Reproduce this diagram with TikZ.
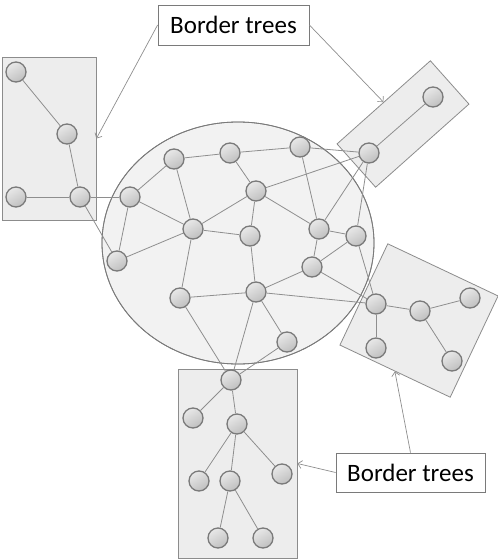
\documentclass[tikz,border=0pt]{standalone}
\usepackage{fontspec}
\setmainfont{Carlito}
\usepackage{xcolor}
\definecolor{boxfill}{HTML}{EDEDED}
\definecolor{boxline}{HTML}{8C8C8C}
\definecolor{corefill}{HTML}{F2F2F2}
\definecolor{coreline}{HTML}{7A7A7A}
\definecolor{linkgray}{HTML}{8E8E8E}
\usepackage{tikz}
\usetikzlibrary{calc,positioning,shapes,arrows.meta}
\tikzset{
  vertex/.style={circle,draw=coreline,line width=1.3pt,minimum size=20pt,inner sep=0pt,
    top color=gray!18,bottom color=gray!50,shading angle=30},
  treebox/.style={rectangle,draw=boxline,fill=boxfill,line width=0.8pt,inner sep=0pt},
  link/.style={draw=linkgray,line width=0.8pt},
  tag/.style={rectangle,draw=coreline,fill=white,line width=0.8pt,minimum width=151pt,minimum height=40pt,
    font=\fontsize{25}{30}\selectfont},
  pointer/.style={draw=linkgray,line width=0.7pt,-{Straight Barb[length=4pt,width=8pt]}},
}
\begin{document}
\begin{tikzpicture}[x=1pt,y=-1pt]
    \useasboundingbox (0,0) rectangle (498,560);

    % core network
    \path[fill=corefill,draw=coreline,line width=0.8pt] (238,243) ellipse [x radius=136,y radius=121];

    % border trees
    \node[treebox,minimum width=94pt,minimum height=163pt] (boxL) at (49,138.5) {};
    \node[treebox,minimum width=125pt,minimum height=58pt,rotate=41.7] (boxTR) at (403,124) {};
    \node[treebox,minimum width=122pt,minimum height=112pt,rotate=-25.3] (boxR) at (419,320.5) {};
    \node[treebox,minimum width=119pt,minimum height=189pt] (boxB) at (237.5,463.5) {};
    \path[draw=coreline,line width=0.8pt] (238,243) ellipse [x radius=136,y radius=121];

    % nodes
    \node[vertex] (lt1) at (16,72) {};
    \node[vertex] (lt2) at (67,134) {};
    \node[vertex] (lt3) at (16,197) {};
    \node[vertex] (lt4) at (80,197) {};

    \node[vertex] (c1) at (130,197) {};
    \node[vertex] (c2) at (174,159) {};
    \node[vertex] (c3) at (230,153) {};
    \node[vertex] (c4) at (300,147) {};
    \node[vertex] (c5) at (256,191) {};
    \node[vertex] (c6) at (193,229) {};
    \node[vertex] (c7) at (250,236) {};
    \node[vertex] (c8) at (319,229) {};
    \node[vertex] (c9) at (356,236) {};
    \node[vertex] (c10) at (117,261) {};
    \node[vertex] (c11) at (312,267) {};
    \node[vertex] (c12) at (180,298) {};
    \node[vertex] (c13) at (256,292) {};
    \node[vertex] (c14) at (287,342) {};

    \node[vertex] (tr1) at (369,153) {};
    \node[vertex] (tr2) at (433,97) {};

    \node[vertex] (rt1) at (376,304) {};
    \node[vertex] (rt2) at (420,311) {};
    \node[vertex] (rt3) at (470,298) {};
    \node[vertex] (rt4) at (376,348) {};
    \node[vertex] (rt5) at (452,361) {};

    \node[vertex] (bt1) at (231,380) {};
    \node[vertex] (bt2) at (193,418) {};
    \node[vertex] (bt3) at (237,424) {};
    \node[vertex] (bt4) at (199,481) {};
    \node[vertex] (bt5) at (230,481) {};
    \node[vertex] (bt6) at (218,538) {};
    \node[vertex] (bt7) at (282,474) {};
    \node[vertex] (bt8) at (263,538) {};

    % labels
    \node[tag] (top) at (233.5,25) {Border trees};
    \node[tag,minimum width=149pt,minimum height=39pt] (bot) at (410.5,472.5) {Border trees};

    \begin{scope} [every path/.style=link]
      \path (lt1) -- (lt2);
      \path (lt2) -- (lt4);
      \path (lt3) -- (lt4);
      \path (lt4) -- (c1);
      \path (lt4) -- (c10);

      \path (c1) -- (c2);
      \path (c1) -- (c6);
      \path (c1) -- (c10);
      \path (c10) -- (c6);
      \path (c2) -- (c3);
      \path (c2) -- (c6);
      \path (c3) -- (c4);
      \path (c3) -- (c5);
      \path (c4) -- (tr1);
      \path (c4) -- (c8);
      \path (c5) -- (tr1);
      \path (c5) -- (c6);
      \path (c5) -- (c7);
      \path (c5) -- (c8);
      \path (c6) -- (c7);
      \path (c6) -- (c12);
      \path (c7) -- (c13);
      \path (c8) -- (c9);
      \path (c8) -- (c11);
      \path (c8) -- (tr1);
      \path (c9) -- (tr1);
      \path (c9) -- (c11);
      \path (c9) -- (rt1);
      \path (c11) -- (c13);
      \path (c11) -- (rt1);
      \path (c12) -- (c13);
      \path (c13) -- (rt1);
      \path (c13) -- (c14);
      \path (c13) -- (bt1);
      \path (c12) -- (bt1);
      \path (c14) -- (bt1);

      \path (tr1) -- (tr2);

      \path (rt1) -- (rt2);
      \path (rt2) -- (rt3);
      \path (rt1) -- (rt4);
      \path (rt2) -- (rt5);

      \path (bt1) -- (bt2);
      \path (bt1) -- (bt3);
      \path (bt3) -- (bt4);
      \path (bt3) -- (bt5);
      \path (bt3) -- (bt7);
      \path (bt5) -- (bt6);
      \path (bt5) -- (bt8);
    \end{scope}

    \begin{scope} [every path/.style=pointer]
      \path (top.west) -- (boxL.east);
      \path (top.east) -- (boxTR.north);
      \path (bot.north) -- (boxR.south);
      \path (bot.west) -- (boxB.east);
    \end{scope}
\end{tikzpicture}
\end{document}
